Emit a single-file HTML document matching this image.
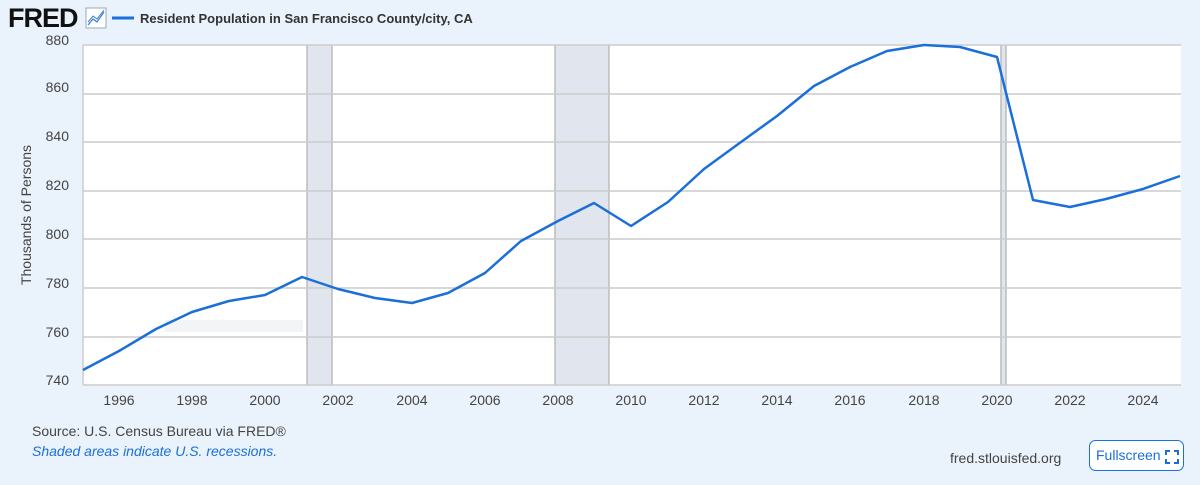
<!DOCTYPE html>
<html><head><style>
body{margin:0;width:1200px;height:480px;background:#eaf2fb;font-family:"Liberation Sans",sans-serif;overflow:hidden}
</style></head><body>
<svg width="1200" height="480" xmlns="http://www.w3.org/2000/svg" font-family="Liberation Sans, sans-serif">
<rect width="1200" height="480" fill="#eaf2fb"/>
<text x="8" y="27" font-size="27" font-weight="bold" fill="#111" letter-spacing="-1">FRED</text>
<rect x="86" y="8" width="20" height="20" fill="#fff" stroke="#9ab" stroke-width="1"/>
<polyline points="88,25 93,19 97,22 104,12" fill="none" stroke="#3b7ed0" stroke-width="1.2"/>
<polyline points="88,22 93,16 97,19 104,10" fill="none" stroke="#3b7ed0" stroke-width="1"/>
<line x1="112" y1="18" x2="134" y2="18" stroke="#1a6fd8" stroke-width="3"/>
<text x="140" y="23" font-size="13" font-weight="bold" fill="#333">Resident Population in San Francisco County/city, CA</text>
<rect x="83" y="45" width="1098" height="340" fill="#fff"/>
<rect x="307" y="45" width="25" height="340" fill="#e1e6ee"/>
<rect x="555" y="45" width="54" height="340" fill="#e1e6ee"/>
<rect x="1001" y="45" width="5" height="340" fill="#e1e6ee"/>
<g stroke="#bbb" stroke-width="1.5">
<line x1="307" y1="45" x2="307" y2="385"/><line x1="332" y1="45" x2="332" y2="385"/>
<line x1="555" y1="45" x2="555" y2="385"/><line x1="609" y1="45" x2="609" y2="385"/>
<line x1="1001" y1="45" x2="1001" y2="385"/><line x1="1006" y1="45" x2="1006" y2="385"/>
</g>
<rect x="165" y="320" width="138" height="12" fill="#f3f4f6"/>
<g stroke="#ccc" stroke-width="1.5">
<line x1="83" y1="45" x2="1181" y2="45"/><line x1="83" y1="94" x2="1181" y2="94"/>
<line x1="83" y1="142" x2="1181" y2="142"/><line x1="83" y1="191" x2="1181" y2="191"/>
<line x1="83" y1="239" x2="1181" y2="239"/><line x1="83" y1="288" x2="1181" y2="288"/>
<line x1="83" y1="337" x2="1181" y2="337"/><line x1="83" y1="385" x2="1181" y2="385"/>
<line x1="83" y1="45" x2="83" y2="385"/>
</g>
<g font-size="14" fill="#444" text-anchor="end">
<text x="69" y="45">880</text><text x="69" y="92">860</text><text x="69" y="141">840</text>
<text x="69" y="190">820</text><text x="69" y="239">800</text><text x="69" y="288">780</text>
<text x="69" y="337">760</text><text x="69" y="385">740</text>
</g>
<text transform="translate(31,215) rotate(-90)" font-size="14" fill="#444" text-anchor="middle">Thousands of Persons</text>
<g font-size="14" fill="#444" text-anchor="middle">
<text x="119" y="405">1996</text><text x="192" y="405">1998</text><text x="265" y="405">2000</text>
<text x="338" y="405">2002</text><text x="412" y="405">2004</text><text x="485" y="405">2006</text>
<text x="558" y="405">2008</text><text x="631" y="405">2010</text><text x="704" y="405">2012</text>
<text x="777" y="405">2014</text><text x="850" y="405">2016</text><text x="924" y="405">2018</text>
<text x="997" y="405">2020</text><text x="1070" y="405">2022</text><text x="1143" y="405">2024</text>
</g>
<polyline fill="none" stroke="#1a6fd8" stroke-width="2.5" stroke-linejoin="round" points="
83,370 119,351 156,329 192,312 229,301 265,295 302,277 338,289 375,298 412,303 448,293 485,273 521,241 558,221 594,203 631,226 668,202 704,169 741,142 777,116 814,86 850,67 887,51 924,45 960,47 997,57 1033,200 1070,207 1106,199 1143,189 1180,176"/>
<text x="32" y="436" font-size="14" fill="#444">Source: U.S. Census Bureau via FRED®</text>
<text x="32" y="456" font-size="14" fill="#1a6fd8" font-style="italic">Shaded areas indicate U.S. recessions.</text>
<text x="950" y="463" font-size="14" fill="#444">fred.stlouisfed.org</text>
<rect x="1089.5" y="440.5" width="94" height="30" rx="6" fill="#fff" stroke="#1a6fd8"/>
<text x="1096" y="460" font-size="14" fill="#1a6fd8">Fullscreen</text>
<path d="M1166 455v-4h4M1174 451h4v4M1178 459v4h-4M1170 463h-4v-4" fill="none" stroke="#1a6fd8" stroke-width="2"/>
</svg>
</body></html>
